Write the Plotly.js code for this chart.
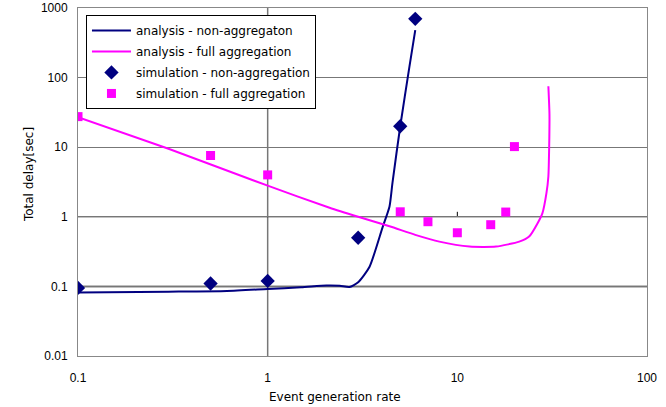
<!DOCTYPE html>
<html>
<head>
<meta charset="utf-8">
<script src="https://cdn.plot.ly/plotly-3.0.1.min.js"></script>
<style>html,body{margin:0;padding:0;background:#fff;}#chart{width:666px;height:407px;}</style>
</head>
<body>
<div id="chart"></div>
<script>
// analysis - non-aggregaton (curve)
var anaNonX = [0.1, 0.3, 0.61, 1, 1.5, 2.04, 2.4, 2.7, 3.0, 3.44, 4.03, 4.39, 4.55, 5.0, 5.59, 6.0];
var anaNonY = [0.082, 0.084, 0.086, 0.092, 0.097, 0.103, 0.102, 0.098, 0.115, 0.19, 0.70, 1.41, 3.08, 20, 144, 480];
// analysis - full aggregation (curve)
var anaFullX = [0.1, 0.3, 1, 2.12, 3.0, 4.39, 6.0, 8.04, 11.6, 16.0, 21.2, 23.9, 26.5, 28.1, 29.5, 30.2, 30.5, 30.6, 30.2];
var anaFullY = [27, 9.5, 2.8, 1.35, 1.0, 0.73, 0.55, 0.44, 0.374, 0.374, 0.44, 0.52, 0.81, 1.13, 2.19, 3.8, 10.4, 30, 75];
// simulation - non-aggregation (diamonds)
var simNonX = [0.1, 0.5, 1, 3, 5, 6];
var simNonY = [0.095, 0.11, 0.12, 0.5, 20, 700];
// simulation - full aggregation (squares)
var simFullX = [0.1, 0.5, 1, 5, 7, 10, 15, 18, 20];
var simFullY = [27.5, 7.6, 4.0, 1.18, 0.85, 0.59, 0.77, 1.17, 10.2];

var names = ['analysis - non-aggregaton', 'analysis - full aggregation', 'simulation - non-aggregation', 'simulation - full aggregation'];
var xTicks = [0.1, 1, 10, 100], xTickText = ['0.1', '1', '10', '100'];
var yTicks = [0.01, 0.1, 1, 10, 100, 1000], yTickText = ['0.01', '0.1', '1', '10', '100', '1000'];
var navy = '#000080', magenta = '#FF00FF';

var traces = [
  {x: anaNonX, y: anaNonY, mode: 'lines', name: names[0], legendgroup: 'a', line: {color: navy, width: 2, shape: 'spline', smoothing: 0.6}},
  {x: anaFullX, y: anaFullY, mode: 'lines', name: names[1], legendgroup: 'b', line: {color: magenta, width: 2, shape: 'spline', smoothing: 0.6}},
  {x: simNonX, y: simNonY, mode: 'markers', name: names[2], legendgroup: 'c', marker: {symbol: 'diamond', color: navy, size: 11}},
  {x: simFullX, y: simFullY, mode: 'markers', name: names[3], legendgroup: 'd', marker: {symbol: 'square', color: magenta, size: 9}}
];

var txtFam = '"DejaVu Sans", sans-serif';
var numFam = '"Liberation Sans", Arial, sans-serif';
var layout = {
  width: 666, height: 407,
  margin: {l: 78, r: 19, t: 8, b: 51},
  paper_bgcolor: '#fff', plot_bgcolor: '#fff',
  font: {family: txtFam, size: 12, color: '#000'},
  showlegend: true,
  legend: {x: 0.014, y: 0.98, xanchor: 'left', yanchor: 'top', bgcolor: '#fff', bordercolor: '#000', borderwidth: 1,
           font: {family: txtFam, size: 12, color: '#000'}, itemwidth: 39, tracegroupgap: 2},
  xaxis: {type: 'log', range: [-1, 2], showgrid: false, zeroline: false, showline: true, mirror: true, linecolor: '#888', linewidth: 1,
          ticks: 'outside', ticklen: 11, tickcolor: 'rgba(0,0,0,0)', tickvals: xTicks, ticktext: xTickText,
          tickfont: {family: numFam, size: 12}},
  yaxis: {type: 'log', range: [-2, 3], showgrid: true, gridcolor: '#777', gridwidth: 1, zeroline: false, showline: true, mirror: true, linecolor: '#888', linewidth: 1,
          ticks: 'outside', ticklen: 7, tickcolor: 'rgba(0,0,0,0)', tickvals: yTicks, ticktext: yTickText,
          tickfont: {family: numFam, size: 12}},
  annotations: [
    {text: 'Event generation rate', xref: 'paper', yref: 'paper', x: 0.4517, y: -0.118, xanchor: 'center', yanchor: 'middle', showarrow: false, font: {family: txtFam, size: 12}},
    {text: 'Total delay[sec]', xref: 'paper', yref: 'paper', x: -0.086, y: 0.52, xanchor: 'center', yanchor: 'middle', textangle: -90, showarrow: false, font: {family: txtFam, size: 12}}
  ],
  shapes: [
    {type: 'line', xref: 'x', yref: 'paper', x0: 1, x1: 1, y0: 0, y1: 1, line: {color: '#777', width: 1.5}, layer: 'below'},
    {type: 'line', xref: 'paper', yref: 'y', x0: 0, x1: 1, y0: 0.1, y1: 0.1, line: {color: '#000', width: 1.5}, layer: 'below'},
    {type: 'line', xref: 'paper', yref: 'y', x0: 0, x1: 1, y0: 1, y1: 1, line: {color: '#333', width: 1}, layer: 'below'},
    {type: 'line', xref: 'x', yref: 'y', ysizemode: 'pixel', yanchor: 1, x0: 10, x1: 10, y0: 0, y1: 5, line: {color: '#000', width: 1}, layer: 'below'}
  ]
};

Plotly.newPlot('chart', traces, layout, {displayModeBar: false, staticPlot: true});
</script>
</body>
</html>
